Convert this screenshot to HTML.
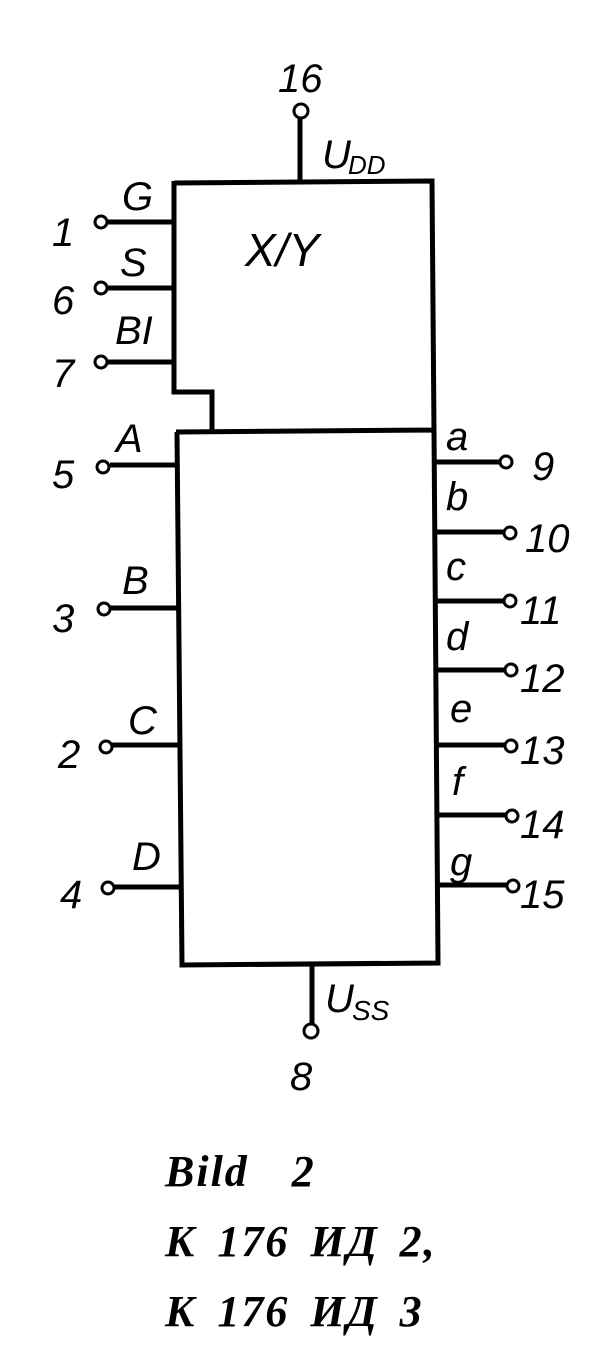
<!DOCTYPE html>
<html><head><meta charset="utf-8"><style>
html,body{margin:0;padding:0;background:#fff;}
svg{display:block}
.l{font-family:"Liberation Sans",sans-serif;font-style:italic;font-size:40px;fill:#000}
.c{font-family:"Liberation Serif",serif;font-style:italic;font-weight:bold;font-size:44px;fill:#000;letter-spacing:2px}
</style></head><body>
<svg width="608" height="1365" viewBox="0 0 608 1365" xmlns="http://www.w3.org/2000/svg">
<g stroke="#000" stroke-width="5" fill="none">
<path d="M174,183 L432,181 L434,432 M174,181 L174,392 L212,392 L212,432 M176,432 L434,430 M177,432 L182,965 L438,963 L434,430"/>
<path d="M300,118 L300,183"/>
<path d="M312,963 L312,1024"/>
<path d="M108,222 L174,222 M108,288 L174,288 M108,362 L174,362 M110,465 L177,465 M110,608 L179,608 M112,745 L180,745 M114,887 L182,887"/>
<path d="M434,462 L500,462 M435,532 L504,532 M436,601 L504,601 M437,670 L505,670 M437,745 L505,745 M438,815 L506,815 M438,885 L507,885"/>
</g>
<g stroke="#000" stroke-width="3" fill="#fff">
<circle cx="301" cy="111" r="7"/><circle cx="311" cy="1031" r="7"/>
<circle cx="101" cy="222" r="6"/><circle cx="101" cy="288" r="6"/><circle cx="101" cy="362" r="6"/>
<circle cx="103" cy="467" r="6"/><circle cx="104" cy="609" r="6"/><circle cx="106" cy="747" r="6"/><circle cx="108" cy="888" r="6"/>
<circle cx="506" cy="462" r="6"/><circle cx="510" cy="533" r="6"/><circle cx="510" cy="601" r="6"/><circle cx="511" cy="670" r="6"/><circle cx="511" cy="746" r="6"/><circle cx="512" cy="816" r="6"/><circle cx="513" cy="886" r="6"/>
</g>
<g class="l">
<text x="278" y="92">16</text>
<text x="322" y="168">U</text><text x="348" y="174" font-size="26">DD</text>
<text x="245" y="266" font-size="46">X/Y</text>
<text x="122" y="210">G</text><text x="120" y="276">S</text><text x="115" y="344">BI</text>
<text x="52" y="246">1</text><text x="52" y="314">6</text><text x="52" y="387">7</text>
<text x="116" y="452">A</text><text x="52" y="488">5</text>
<text x="122" y="594">B</text><text x="52" y="632">3</text>
<text x="128" y="734">C</text><text x="58" y="768">2</text>
<text x="132" y="870">D</text><text x="60" y="908">4</text>
<text x="446" y="450">a</text><text x="532" y="480">9</text>
<text x="446" y="510">b</text><text x="525" y="552">10</text>
<text x="446" y="580">c</text><text x="520" y="624">11</text>
<text x="446" y="650">d</text><text x="520" y="692">12</text>
<text x="450" y="722">e</text><text x="520" y="764">13</text>
<text x="452" y="795">f</text><text x="520" y="838">14</text>
<text x="450" y="875">g</text><text x="520" y="908">15</text>
<text x="325" y="1012">U</text><text x="352" y="1020" font-size="28">SS</text>
<text x="290" y="1090">8</text>
</g>
<g class="c">
<text x="165" y="1186" word-spacing="30">Bild 2</text>
<text x="165" y="1256" word-spacing="8">K 176 ИД 2,</text>
<text x="165" y="1326" word-spacing="8">K 176 ИД 3</text>
</g>
</svg>
</body></html>
